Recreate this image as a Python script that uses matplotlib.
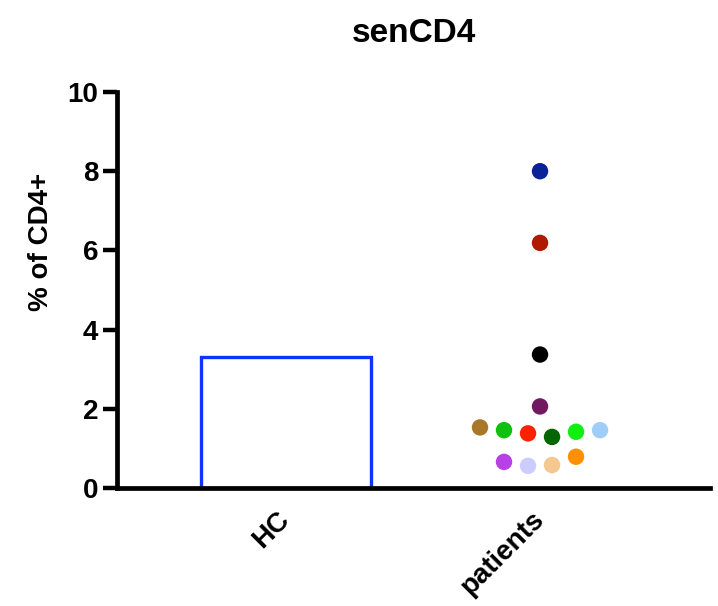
import numpy as np
import matplotlib
matplotlib.use("Agg")
import matplotlib.pyplot as plt

plt.rcParams['font.family'] = ['Liberation Sans', 'DejaVu Sans']
plt.rcParams['font.weight'] = 'bold'

# Data
categories = ["HC", "patients"]
hc_value = 3.3
patient_values = [8.0, 6.19, 3.37, 2.06, 1.53, 1.46, 1.38, 1.29, 1.42, 1.46,
                  0.66, 0.56, 0.58, 0.79]
patient_colors = ["#0a2296", "#b01a00", "#000000", "#701860", "#a8782a",
                  "#10c010", "#ff2200", "#006600", "#11ee11", "#a0ccf8",
                  "#b840e8", "#ccccff", "#f5c890", "#ff9000"]
y_ticks = [0, 2, 4, 6, 8, 10]
title = "senCD4"
y_label = "% of CD4+"


def swarm_offsets(values, bin_width, spacing):
    """Spread points that fall into the same value bin symmetrically."""
    vals = np.asarray(values)
    bins = np.floor(vals / bin_width).astype(int)
    offsets = np.zeros(len(vals))
    for b in np.unique(bins):
        idx = np.where(bins == b)[0]
        n = len(idx)
        offsets[idx] = (np.arange(n) - (n - 1) / 2) * spacing
    return offsets


fig = plt.figure(figsize=(7.18, 6.06), dpi=100)
ax = fig.add_axes([117 / 718, 1 - 488 / 606, (710 - 117) / 718, (488 - 92) / 606])

x = np.arange(len(categories))

# HC as an open bar
ax.bar(x[0], hc_value, width=0.67, facecolor="none", edgecolor="#1034ff",
       linewidth=2.4, zorder=2)

# Patients as a swarm of coloured dots
px = x[1] + swarm_offsets(patient_values, 0.4, 0.0945)
ax.scatter(px, patient_values, s=140, c=patient_colors, edgecolors="none",
           zorder=3)

ax.set_xlim(-0.665, 1.669)
ax.set_ylim(0, 10)
ax.set_yticks(y_ticks)
ax.set_yticklabels([str(t) for t in y_ticks], fontsize=20, fontweight='bold')
ax.set_xticks(x)
ax.set_xticklabels(categories, fontsize=20, fontweight='bold', rotation=45,
                   ha='right', va='center', rotation_mode='anchor')

for s in ["top", "right"]:
    ax.spines[s].set_visible(False)
for s in ["left", "bottom"]:
    ax.spines[s].set_linewidth(3.4)
    ax.spines[s].set_capstyle('projecting')

ax.tick_params(axis='y', length=10, width=3.2, pad=3.5, direction='out')
ax.tick_params(axis='x', length=0, pad=20)

ax.set_ylabel(y_label, fontsize=20, fontweight='bold', va='center')
ax.yaxis.set_label_coords(-0.128, 0.621)

fig.text(413.5 / 718, 1 - 41.5 / 606, title, fontsize=24, fontweight='bold',
         ha='center', va='baseline')

fig.savefig("out.png", dpi=100)
